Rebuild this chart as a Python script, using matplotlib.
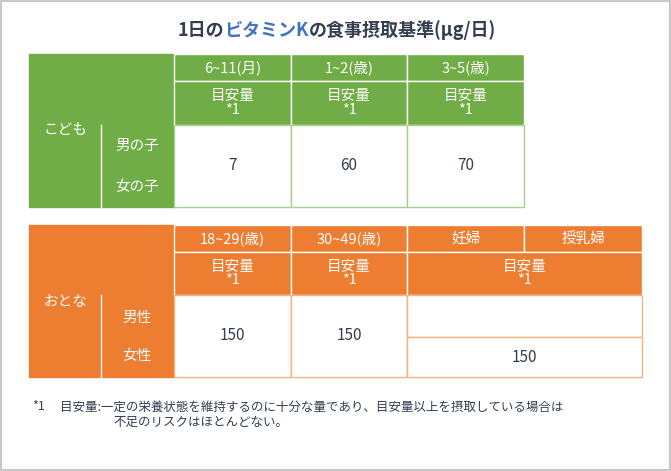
import matplotlib.pyplot as plt
from matplotlib.patches import Rectangle

plt.rcParams['font.family'] = 'Noto Sans CJK JP'

child_cols = ["6~11(月)", "1~2(歳)", "3~5(歳)"]
child_values = [7, 60, 70]
child_rows = ["男の子", "女の子"]
adult_cols = ["18~29(歳)", "30~49(歳)", "妊婦", "授乳婦"]
adult_values = [150, 150, 150]
adult_rows = ["男性", "女性"]
unit_label = "目安量\n*1"

GREEN, GREEN_LINE = '#70AD47', '#A9D18E'
ORANGE, ORANGE_LINE = '#ED7D31', '#F4B183'
TEXT = '#333F50'

fig = plt.figure(figsize=(6.71, 4.71), dpi=100)
ax = fig.add_axes([0, 0, 1, 1])
ax.set_xlim(0, 671)
ax.set_ylim(471, 0)
ax.axis('off')
ax.add_patch(Rectangle((1, 1), 669, 469, fill=False, ec='#C8C8C8', lw=1.5))


def cell(x0, y0, x1, y1, fc, ec, text=None, color='white', size=10.5):
    ax.add_patch(Rectangle((x0, y0), x1 - x0, y1 - y0, fc=fc, ec=ec, lw=1))
    if text is not None:
        ax.text((x0 + x1) / 2, (y0 + y1) / 2, text, ha='center', va='center',
                color=color, fontsize=size, linespacing=1.0)


# title in three coloured pieces
parts = [("1日の", TEXT), ("ビタミンK", '#4472C4'), ("の食事摂取基準(μg/日)", TEXT)]
fig.canvas.draw()
r = fig.canvas.get_renderer()
objs = [ax.text(0, 30, s, color=c, fontsize=13, fontweight='bold', va='center') for s, c in parts]
widths = [o.get_window_extent(r).width for o in objs]
x = 337 - sum(widths) / 2
for o, w in zip(objs, widths):
    o.set_x(x)
    x += w

# children table
cx = [174, 291, 407, 524]
cell(29, 54, 174, 207, GREEN, GREEN)
ax.plot([101, 101], [125, 207], color='white', lw=1)
ax.text(65, 130, "こども", color='white', fontsize=10.5, ha='center', va='center')
for i, name in enumerate(child_cols):
    cell(cx[i], 54, cx[i + 1], 81, GREEN, 'white', name)
    cell(cx[i], 81, cx[i + 1], 125, GREEN, 'white', unit_label)
    cell(cx[i], 125, cx[i + 1], 207, 'white', GREEN_LINE, str(child_values[i]), TEXT, 11)
ax.text(137, 146, child_rows[0], color='white', fontsize=10.5, ha='center', va='center')
ax.text(137, 187, child_rows[1], color='white', fontsize=10.5, ha='center', va='center')

# adults table
axs = [174, 291, 407, 524, 642]
cell(29, 225, 174, 377, ORANGE, ORANGE)
ax.plot([101, 101], [295, 377], color='white', lw=1)
ax.text(65, 302, "おとな", color='white', fontsize=10.5, ha='center', va='center')
for i, name in enumerate(adult_cols):
    cell(axs[i], 225, axs[i + 1], 252, ORANGE, 'white', name)
for i in range(2):
    cell(axs[i], 252, axs[i + 1], 295, ORANGE, 'white', unit_label)
    cell(axs[i], 295, axs[i + 1], 377, 'white', ORANGE_LINE, str(adult_values[i]), TEXT, 11)
cell(407, 252, 642, 295, ORANGE, 'white', unit_label)
cell(407, 295, 642, 337, 'white', ORANGE_LINE)
cell(407, 337, 642, 377, 'white', ORANGE_LINE, str(adult_values[2]), TEXT, 11)
ax.text(137, 318, adult_rows[0], color='white', fontsize=10.5, ha='center', va='center')
ax.text(137, 356, adult_rows[1], color='white', fontsize=10.5, ha='center', va='center')

# footnote
ax.text(32, 407, "*1", color=TEXT, fontsize=9, va='center')
ax.text(60, 407, "目安量:一定の栄養状態を維持するのに十分な量であり、目安量以上を摂取している場合は",
        color=TEXT, fontsize=9, va='center')
ax.text(113, 422, "不足のリスクはほとんどない。", color=TEXT, fontsize=9, va='center')

fig.savefig('out.png', dpi=100)
